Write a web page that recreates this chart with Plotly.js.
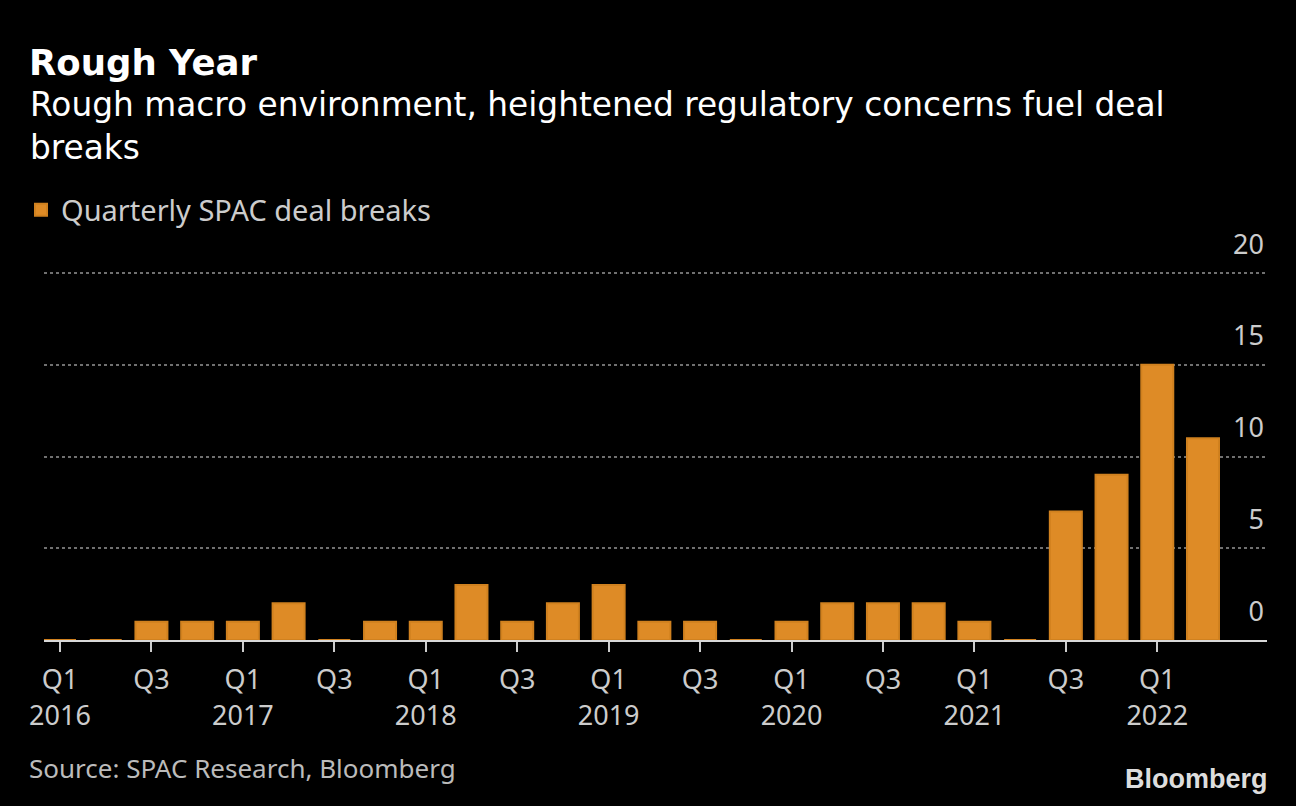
<!DOCTYPE html>
<html><head><meta charset="utf-8">
<script src="https://cdn.plot.ly/plotly-3.0.1.min.js"></script>
<style>html,body{margin:0;padding:0;background:#000;}#chart{width:1296px;height:806px;}</style>
</head><body><div id="chart"></div>
<script>
const quarters = [
  "2016 Q1","2016 Q2","2016 Q3","2016 Q4",
  "2017 Q1","2017 Q2","2017 Q3","2017 Q4",
  "2018 Q1","2018 Q2","2018 Q3","2018 Q4",
  "2019 Q1","2019 Q2","2019 Q3","2019 Q4",
  "2020 Q1","2020 Q2","2020 Q3","2020 Q4",
  "2021 Q1","2021 Q2","2021 Q3","2021 Q4",
  "2022 Q1","2022 Q2"
];
const dealBreaks = [
  0,0,1,1,
  1,2,0,1,
  1,3,1,2,
  3,1,1,0,
  1,2,2,2,
  1,0,7,9,
  15,11
];
const tickQuarters = ["2016 Q1","2016 Q3","2017 Q1","2017 Q3","2018 Q1","2018 Q3","2019 Q1","2019 Q3","2020 Q1","2020 Q3","2021 Q1","2021 Q3","2022 Q1"];
const tickLabels = ["Q1<br>2016","Q3","Q1<br>2017","Q3","Q1<br>2018","Q3","Q1<br>2019","Q3","Q1<br>2020","Q3","Q1<br>2021","Q3","Q1<br>2022"];
const yTicks = [0,5,10,15,20];
const seriesName = "Quarterly SPAC deal breaks";

const HEAD = "DejaVu Sans, Verdana, sans-serif";
const BODY = "Noto Sans, Roboto, sans-serif";
const ORANGE = "#de8b26";

const trace = {
  type: "bar",
  x: quarters,
  y: dealBreaks,
  name: seriesName,
  marker: {color: ORANGE, line: {color: "#d0811f", width: 2}},
  cliponaxis: false,
  hoverinfo: "x+y"
};

const W = 1296, H = 806;
const L = 44, R = 29, T = 196, B = 166;
const plotW = W - L - R, plotH = H - T - B;

const layout = {
  width: W, height: H,
  paper_bgcolor: "#000", plot_bgcolor: "rgba(0,0,0,0)",
  font: {family: BODY, color: "#cccccc", size: 27},
  margin: {l: L, r: R, t: T, b: B, pad: 0, autoexpand: false},
  bargap: 0.3,
  showlegend: true,
  legend: {
    x: 21/W, xref: "container", xanchor: "left",
    y: 1 - 210/H, yref: "container", yanchor: "middle",
    font: {family: BODY, size: 29, color: "#cccccc"},
    bgcolor: "rgba(0,0,0,0)", itemclick: false, itemdoubleclick: false
  },
  title: {
    text: "<b>Rough Year</b>",
    x: 29/W, xref: "container", xanchor: "left",
    y: 1 - 63/H, yref: "container", yanchor: "middle",
    font: {family: HEAD, size: 35.5, color: "#ffffff"}
  },
  xaxis: {
    type: "category",
    range: [-0.35, 26.4],
    tickmode: "array",
    tickvals: tickQuarters,
    ticktext: tickLabels,
    ticks: "outside", ticklen: 10, tickwidth: 2, tickcolor: "#cccccc",
    ticklabelstandoff: 5,
    showline: true, linecolor: "#d9d9d9", linewidth: 2,
    showgrid: false, zeroline: false,
    layer: "above traces",
    automargin: false,
    tickfont: {family: BODY, size: 27, color: "#cccccc"},
    fixedrange: true
  },
  yaxis: {
    range: [0, plotH / 18.35],
    side: "right",
    tickmode: "array",
    tickvals: yTicks,
    ticklabelposition: "inside top",
    ticklabelshift: -10,
    ticks: "",
    showgrid: true, gridcolor: "#707070", gridwidth: 2, griddash: "3px,3px",
    zeroline: false, showline: false,
    automargin: false,
    tickfont: {family: BODY, size: 27, color: "#cccccc"},
    fixedrange: true
  },
  annotations: [
    {
      text: "Rough macro environment, heightened regulatory concerns fuel deal<br>breaks",
      xref: "paper", yref: "paper",
      x: (28 - L)/plotW, y: (H - B - 127)/plotH, xanchor: "left", yanchor: "middle", align: "left",
      showarrow: false,
      font: {family: HEAD, size: 32.8, color: "#ffffff"}
    },
    {
      text: "Source: SPAC Research, Bloomberg",
      xref: "paper", yref: "paper",
      x: (27 - L)/plotW, y: -(768 - (H - B))/plotH, xanchor: "left", yanchor: "middle", align: "left",
      showarrow: false,
      font: {family: BODY, size: 26, color: "#bbbbbb"}
    },
    {
      text: "<b>Bloomberg</b>",
      xref: "paper", yref: "paper",
      x: (1270 - L)/plotW, y: -(779 - (H - B))/plotH, xanchor: "right", yanchor: "middle",
      showarrow: false,
      font: {family: "Liberation Sans, Arial, sans-serif", size: 27, color: "#dddddd"}
    }
  ]
};

Plotly.newPlot("chart", [trace], layout, {displayModeBar: false});
</script>
</body></html>
